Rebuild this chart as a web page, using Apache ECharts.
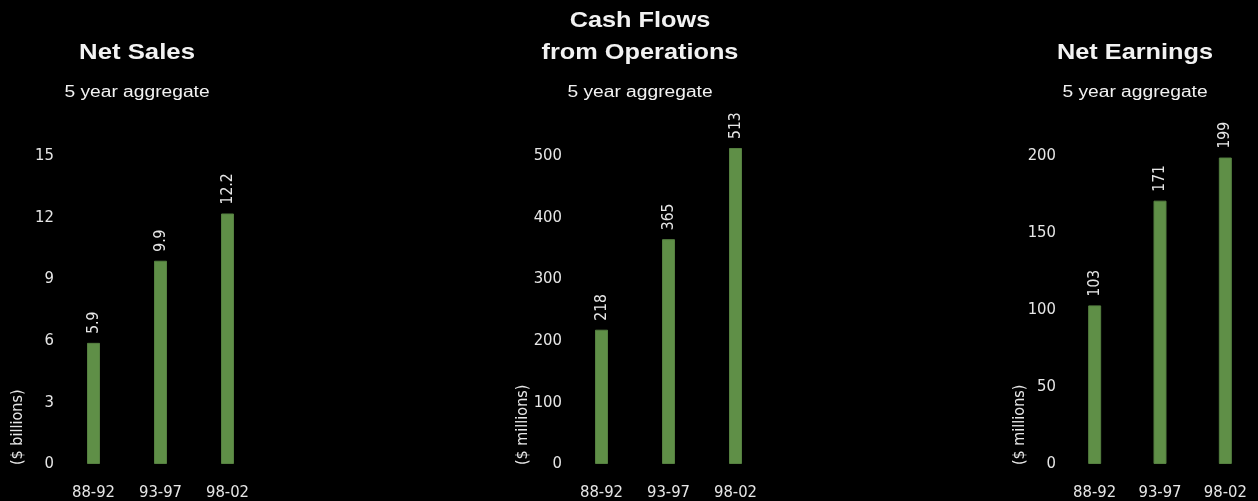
<!DOCTYPE html>
<html>
<head>
<meta charset="utf-8">
<script src="https://cdn.jsdelivr.net/npm/echarts@6/dist/echarts.min.js"></script>
<style>
html,body{margin:0;padding:0;background:#000;}
#c{width:1258px;height:501px;}
</style>
</head>
<body>
<div id="c"></div>
<script>
const categories = ['88-92', '93-97', '98-02'];
const netSales = [5.9, 9.9, 12.2];
const cashFlows = [218, 365, 513];
const netEarnings = [103, 171, 199];
const salesTicks = {min: 0, max: 15, interval: 3};
const cashTicks = {min: 0, max: 500, interval: 100};
const earnTicks = {min: 0, max: 200, interval: 50};

const BAR = '#5f8f47';
const TXT = '#e6e6e6';
const NARROW = '"DejaVu Sans Condensed", "Liberation Sans Narrow", sans-serif';
const SANS = '"Liberation Sans", Arial, sans-serif';

const chart = echarts.init(document.getElementById('c'), null, {renderer: 'canvas'});

const grids = [
  {left: 60, width: 201, top: 156, height: 308},
  {left: 568, width: 201, top: 156, height: 308},
  {left: 1062, width: 202, top: 156, height: 308}
];
const ticks = [salesTicks, cashTicks, earnTicks];
const values = [netSales, cashFlows, netEarnings];

const xAxes = grids.map((g, i) => ({
  type: 'category', gridIndex: i, data: categories,
  axisLine: {show: false}, axisTick: {show: false},
  axisLabel: {color: TXT, fontFamily: NARROW, fontSize: 16.5, margin: 20}
}));
const yAxes = grids.map((g, i) => ({
  type: 'value', gridIndex: i,
  min: ticks[i].min, max: ticks[i].max, interval: ticks[i].interval,
  axisLine: {show: false}, axisTick: {show: false}, splitLine: {show: false},
  axisLabel: {color: TXT, fontFamily: NARROW, fontSize: 16.5, margin: 6}
}));
const series = values.map((v, i) => ({
  type: 'bar', xAxisIndex: i, yAxisIndex: i, data: v,
  barWidth: 13, clip: false,
  itemStyle: {color: BAR, borderColor: '#557f40', borderWidth: 1},
  label: {
    show: true, position: 'top', rotate: 90, distance: 9,
    align: 'left', verticalAlign: 'middle',
    color: TXT, fontFamily: NARROW, fontSize: 15.5
  }
}));

function txt(x, y, s, font, size, weight, sx, rot) {
  return {
    type: 'text', x: x, y: y, rotation: rot || 0, scaleX: sx || 1,
    style: {
      text: s, fill: rot ? TXT : '#f2f2f2', font: (weight || 'normal') + ' ' + size + 'px ' + font,
      align: rot ? 'left' : 'center', verticalAlign: 'middle'
    }
  };
}

chart.setOption({
  backgroundColor: '#000',
  animation: false,
  grid: grids,
  xAxis: xAxes,
  yAxis: yAxes,
  series: series,
  graphic: [
    txt(137, 53, 'Net Sales', SANS, 22, 'bold', 1.17),
    txt(137, 93, '5 year aggregate', SANS, 16, 'normal', 1.2),
    txt(640, 21, 'Cash Flows', SANS, 22, 'bold', 1.15),
    txt(640, 53, 'from Operations', SANS, 22, 'bold', 1.15),
    txt(640, 93, '5 year aggregate', SANS, 16, 'normal', 1.2),
    txt(1135, 53, 'Net Earnings', SANS, 22, 'bold', 1.15),
    txt(1135, 93, '5 year aggregate', SANS, 16, 'normal', 1.2),
    txt(18, 465, '($ billions)', NARROW, 16, 'normal', 1, Math.PI / 2),
    txt(523, 465, '($ millions)', NARROW, 16, 'normal', 1, Math.PI / 2),
    txt(1020, 465, '($ millions)', NARROW, 16, 'normal', 1, Math.PI / 2)
  ]
});
</script>
</body>
</html>
